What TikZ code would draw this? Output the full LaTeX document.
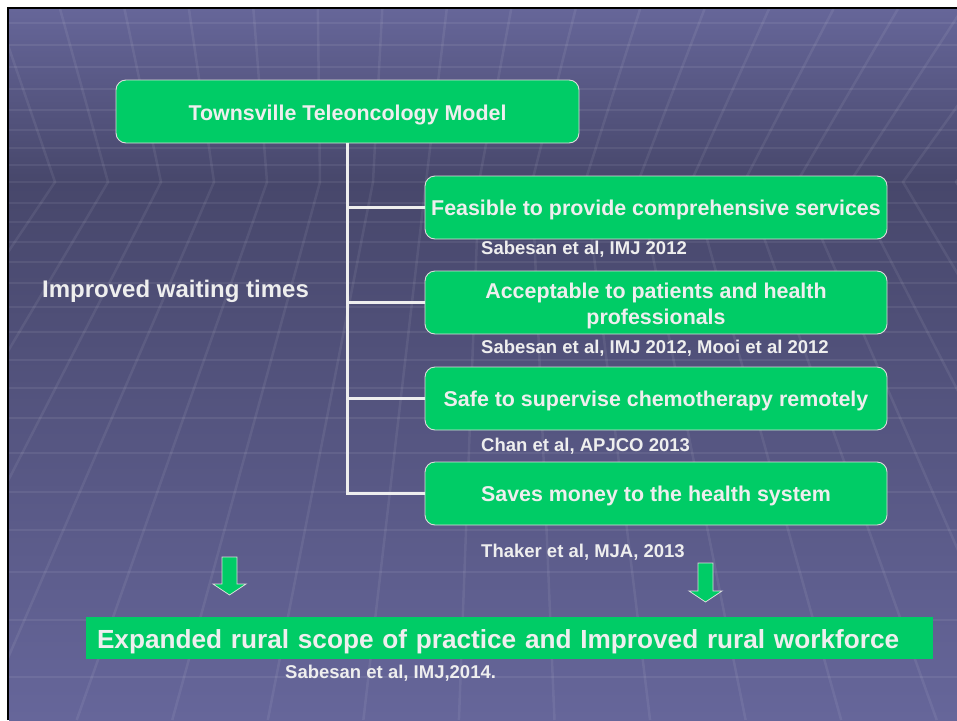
\documentclass[tikz,border=0pt]{standalone}
\usepackage{fontspec}
\setmainfont{Liberation Sans}
\usepackage{tikz}
\usepackage{xcolor}

\definecolor{bgtop}{HTML}{666699}
\definecolor{bgdark}{HTML}{47476B}
\definecolor{bgbot}{HTML}{66669A}
\definecolor{boxgreen}{HTML}{00CC66}
\definecolor{txt}{HTML}{EEEEEE}
\definecolor{rim}{HTML}{DCDCDC}

\newcommand{\greenarrow}[3]{%
  \filldraw[blockarr] (#1-7.5,#2) -- (#1+7.5,#2) -- (#1+7.5,#3-11) -- (#1+16.5,#3-11)
    -- (#1,#3) -- (#1-16.5,#3-11) -- (#1-7.5,#3-11) -- cycle;}

\begin{document}
\begin{tikzpicture}[x=1pt,y=-1pt,
  box/.style={draw=rim,line width=0.9pt,fill=boxgreen,rounded corners=10pt,
    minimum width=462pt,minimum height=63pt,inner sep=0pt,align=center,text=txt,
    text height=19.5pt,text depth=4.5pt,font=\bfseries\fontsize{21.4}{26}\selectfont},
  ref/.style={anchor=base west,inner sep=0pt,text=txt,font=\bfseries\fontsize{18.5}{22}\selectfont},
  link/.style={draw=txt,line width=2.6pt},
  grid/.style={white,opacity=0.07,line width=2.5pt},
  blockarr/.style={fill=boxgreen,draw=rim,line width=0.8pt}]
\useasboundingbox (0,0) rectangle (957,720);
\fill[white] (0,0) rectangle (957,720);
\shade[top color=bgtop,bottom color=bgdark] (9,9) rectangle (957,182);
\shade[top color=bgdark,bottom color=bgbot] (9,182) rectangle (957,720);
\begin{scope}
  \clip (9,9) rectangle (957,720);
  \foreach \y in {23,45,67,89,110,130,148,165,182,203,222,242,262,283,307,332,360,388,418,453,492,530,572,620,677}
    \draw[grid] (9,\y) -- (957,\y);
  \foreach \t in {55,108,...,960}
    \draw[grid] ({\t+(\t-330)*0.216},9) -- (\t,182) -- ({\t+(\t-504)*0.803},720);
\end{scope}
\draw[line width=2.5pt] (8,720) -- (8,8) -- (957,8);

\node[box,minimum width=463pt,text height=21pt,text depth=4pt] (model) at (347.5,111.5) {Townsville Teleoncology Model};
\node[box] (feasible) at (656,207.5) {Feasible to provide comprehensive services};
\node[box,text height=47pt,text depth=4pt] (acceptable) at (656,302.5) {Acceptable to patients and health\\professionals};
\node[box] (safe) at (656,398.5) {Safe to supervise chemotherapy remotely};
\node[box] (saves) at (656,493.5) {Saves money to the health system};

\draw[link] (model.south) |- (saves.west);
\foreach \n in {feasible,acceptable,safe}
  \draw[link] (model.south |- \n.west) -- (\n.west);

\node[ref] (ref1) at (481,254) {Sabesan et al, IMJ 2012};
\node[ref] (ref2) at (481,353) {Sabesan et al, IMJ 2012, Mooi et al 2012};
\node[ref] (ref3) at (481,451) {Chan et al, APJCO 2013};
\node[ref] (ref4) at (481,557) {Thaker et al, MJA, 2013};
\node[ref,font=\bfseries\fontsize{24}{28}\selectfont] (waiting) at (42,297) {Improved waiting times};

\greenarrow{229.5}{557}{595}
\greenarrow{705.5}{563}{602}

\node[fill=boxgreen,text width=825pt,inner xsep=11pt,inner ysep=0pt,text height=31pt,text depth=11pt,
  align=left,text=txt,font=\bfseries\fontsize{26.2}{30}\selectfont] (scope) at (509.5,638)
  {Expanded rural scope of practice and Improved rural workforce};
\node[ref] (ref5) at (285,678) {Sabesan et al, IMJ,2014.};
\end{tikzpicture}
\end{document}
